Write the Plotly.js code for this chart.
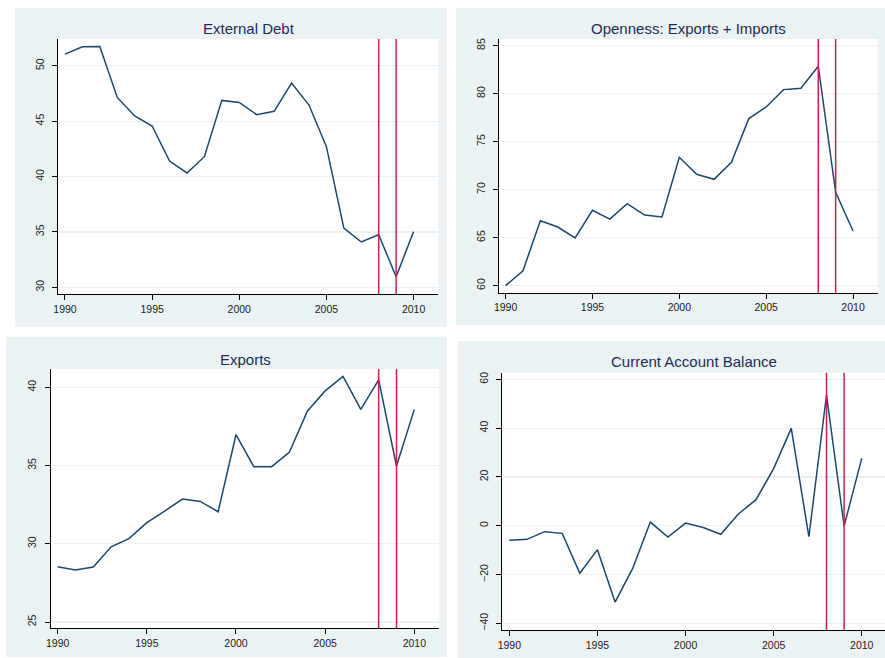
<!DOCTYPE html>
<html>
<head>
<meta charset="utf-8">
<script src="https://cdn.plot.ly/plotly-3.0.1.min.js"></script>
<style>html,body{margin:0;padding:0;background:#fff;}#chart{width:885px;height:658px;}</style>
</head>
<body>
<div id="chart"></div>
<script>
const years = [1990,1991,1992,1993,1994,1995,1996,1997,1998,1999,2000,2001,2002,2003,2004,2005,2006,2007,2008,2009,2010];
const externalDebt = [51.05,51.71,51.74,47.14,45.46,44.56,41.40,40.32,41.79,46.87,46.69,45.58,45.88,48.44,46.45,42.69,35.35,34.09,34.75,30.96,35.02];
const openness = [60.0,61.56,66.77,66.11,64.97,67.85,66.94,68.54,67.36,67.15,73.37,71.60,71.08,72.85,77.40,78.61,80.42,80.56,82.85,69.72,65.69];
const exportsVals = [28.54,28.32,28.51,29.81,30.33,31.35,32.09,32.86,32.71,32.05,36.97,34.93,34.93,35.86,38.47,39.77,40.70,38.59,40.47,34.97,38.59];
const currentAccount = [-5.98,-5.57,-2.43,-3.11,-19.5,-9.8,-31.3,-17.5,1.5,-4.6,1.1,-0.7,-3.5,4.8,10.7,23.4,39.9,-4.5,53.6,-0.1,27.6];
const titles = ["External Debt","Openness: Exports + Imports","Exports","Current Account Balance"];
const crisisYears = [2008, 2009];
const xTicks = [1990,1995,2000,2005,2010];
const yTicks1 = [30,35,40,45,50];
const yTicks2 = [60,65,70,75,80,85];
const yTicks3 = [25,30,35,40];
const yTicks4 = [-40,-20,0,20,40,60];

const W = 885, H = 658;
const series = [externalDebt, openness, exportsVals, currentAccount];
const yTicksAll = [yTicks1, yTicks2, yTicks3, yTicks4];
// pixel geometry of each panel
const panels = [
  {outer:[15,8.3,447,326.7], plot:[58,39,438.3,294.3], xr:[1989.60,2011.42], yr:[29.37,52.41], title:[249,29]},
  {outer:[456,8.3,885,325], plot:[499,39,877.7,292.7], xr:[1989.62,2011.42], yr:[59.27,85.69], title:[688,29]},
  {outer:[6,336.7,447,657], plot:[50.67,369,439.3,628.3], xr:[1989.61,2011.40], yr:[24.60,41.17], title:[245.7,359]},
  {outer:[457.7,341,885,658], plot:[502.3,372.7,885,630], xr:[1989.60,2011.32], yr:[-42.73,62.73], title:[694.3,361.7]}
];
const px = v => v / W;
const py = v => 1 - v / H;

const traces = [];
const shapes = [];
const annotations = [];
const layout = {
  width: W, height: H, autosize: false,
  margin: {l:0, r:0, t:0, b:0},
  paper_bgcolor: '#ffffff', plot_bgcolor: '#ffffff',
  showlegend: false,
  font: {family: 'Liberation Sans, Arial, sans-serif', color: '#222'},
  shapes: shapes, annotations: annotations
};

panels.forEach((p, i) => {
  const n = i === 0 ? '' : String(i + 1);
  const xa = 'x' + n, ya = 'y' + n;
  traces.push({x: years, y: series[i], xaxis: xa, yaxis: ya, type: 'scatter', mode: 'lines',
    line: {color: '#1A476F', width: 1.5}, hoverinfo: 'skip'});
  layout['xaxis' + n] = {
    domain: [px(p.plot[0]), px(p.plot[2])], range: p.xr, anchor: ya,
    tickvals: xTicks, ticks: 'outside', ticklen: 5, tickcolor: '#000', tickwidth: 1,
    showline: true, linecolor: '#000', linewidth: 1, showgrid: false, zeroline: false,
    tickfont: {size: 10.5, color: '#222'}
  };
  layout['yaxis' + n] = {
    domain: [py(p.plot[3]), py(p.plot[1])], range: p.yr, anchor: xa,
    tickvals: yTicksAll[i], ticks: 'outside', ticklen: 5, tickcolor: '#000', tickwidth: 1,
    showline: true, linecolor: '#000', linewidth: 1, showgrid: true, gridcolor: '#EAF1F2', gridwidth: 1.2,
    zeroline: false, tickangle: -90, ticklabelstandoff: 4, tickfont: {size: 10.5, color: '#222'}
  };
  // panel background
  shapes.push({type:'rect', xref:'paper', yref:'paper', layer:'below',
    x0: px(p.outer[0]), x1: px(p.outer[2]), y0: py(p.outer[3]), y1: py(p.outer[1]),
    fillcolor:'#EAF2F3', line:{width:0}});
  shapes.push({type:'rect', xref:'paper', yref:'paper', layer:'below',
    x0: px(p.plot[0]), x1: px(p.plot[2]), y0: py(p.plot[3]), y1: py(p.plot[1]),
    fillcolor:'#FFFFFF', line:{width:0}});
  crisisYears.forEach(yr => {
    shapes.push({type:'line', xref: xa, yref: ya + ' domain', x0: yr, x1: yr, y0: 0, y1: 1,
      line:{color:'#D01E4C', width:1.5}, layer:'above'});
  });
  annotations.push({text: titles[i], xref:'paper', yref:'paper', x: px(p.title[0]), y: py(p.title[1]),
    xanchor:'center', yanchor:'middle', showarrow:false,
    font:{size:15, color:'#1E2C58', family:'Liberation Sans, Arial, sans-serif'}});
});

Plotly.newPlot('chart', traces, layout, {displayModeBar:false, staticPlot:true});
</script>
</body>
</html>
